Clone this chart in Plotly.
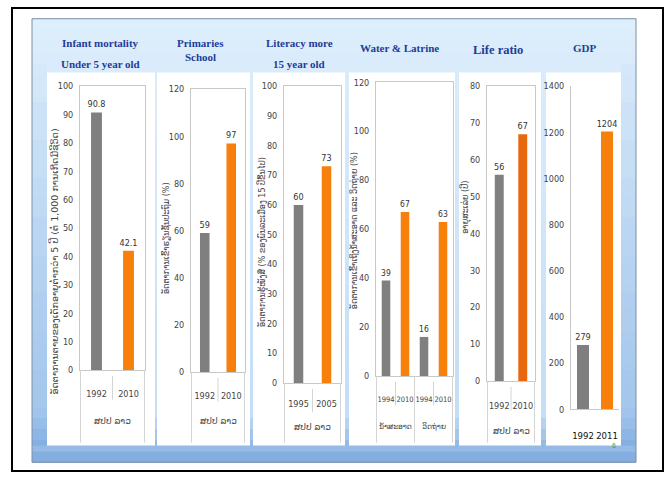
import plotly.graph_objects as go

# ---- data ----
lao_pdr = "ສປປ ລາວ"

infant_years = ["1992", "2010"]
infant_vals = [90.8, 42.1]

school_years = ["1992", "2010"]
school_vals = [59, 97]

literacy_years = ["1995", "2005"]
literacy_vals = [60, 73]

water_groups = ["ນ້ຳສະອາດ", "ນ້ຳສະອາດ", "ວິດຖ່າຍ", "ວິດຖ່າຍ"]
water_years = ["1994", "2010", "1994", "2010"]
water_vals = [39, 67, 16, 63]

life_years = ["1992", "2010"]
life_vals = [56, 67]

gdp_years = ["1992", "2011"]
gdp_vals = [279, 1204]

titles = [["Infant mortality", "Under 5 year old"], ["Primaries", "School"],
          ["Literacy more", "15 year old"], ["Water & Latrine"], ["Life ratio"], ["GDP"]]
y_titles = [
    "ອັດຕາການຕາຍຂອງເດັກອາຍຸຕ່ຳກວ່າ 5 ປີ (ຕໍ່ 1,000 ການເກີດມີຊີວິດ)",
    "ອັດຕາການເຂົ້າຮຽນຊັ້ນປະຖົມ (%)",
    "ອັດຕາການຮູ້ໜັງສື (% ຂອງພົນລະເມືອງ 15 ປີຂຶ້ນໄປ)",
    "ອັດຕາການເຂົ້າເຖິງນ້ຳສະອາດ ແລະ ວິດຖ່າຍ (%)",
    "ອາຍຸສະເລ່ຍ (ປີ)",
    None,
]

# ---- styling ----
W, H = 667, 479
GRAY = "#7f7f7f"
ORANGE = "#f7800c"
ORANGE_DARK = "#e8680e"
TITLE_BLUE = "#1f3c99"
DIV = "#d4d4d4"
NARROW = "Liberation Sans Narrow, Arial Narrow, DejaVu Sans Condensed, sans-serif"
LAO = "DejaVu Sans, Noto Sans, sans-serif"


def px(x):
    return x / W


def py(y):
    return 1 - y / H


# plot areas in pixels: (left, right, top, bottom)
boxes = [
    (80, 145, 83, 373),
    (191, 245, 86, 375),
    (284, 341, 83, 386),
    (376, 453, 79, 379),
    (487, 535, 83, 384),
    (571, 619, 83, 413),
]
y_ranges = [100, 120, 100, 120, 80, 1400]
y_dticks = [10, 20, 10, 20, 10, 200]
gaps = [0.66, 0.64, 0.66, 0.55, 0.62, 0.5]
x_standoff = [15, 15, 12, 16, 16, 17]
x_font = [9, 9, 9, 7.5, 9, 9.5]
group_font = [9, 9, 9, 7.5, 9, None]
group_label_y = [425, 425, 431, 430, 435, None]

water_keys = [g + " " + y for g, y in zip(water_groups, water_years)]

# (category keys, tick texts, values, colours, group spans)
series = [
    (infant_years, infant_years, infant_vals, [GRAY, ORANGE], [(lao_pdr, 0, 1)]),
    (school_years, school_years, school_vals, [GRAY, ORANGE], [(lao_pdr, 0, 1)]),
    (literacy_years, literacy_years, literacy_vals, [GRAY, ORANGE], [(lao_pdr, 0, 1)]),
    (water_keys, water_years, water_vals, [GRAY, ORANGE, GRAY, ORANGE],
     [(water_groups[0], 0, 1), (water_groups[2], 2, 3)]),
    (life_years, life_years, life_vals, [GRAY, ORANGE_DARK], [(lao_pdr, 0, 1)]),
    (gdp_years, gdp_years, gdp_vals, [GRAY, ORANGE], []),
]

fig = go.Figure()
layout = {}
shapes_top = []
annotations = []
for i, ((keys, ticktext, vals, cols, groups), box, yr, dt, gap, so, xf, gf, gy) in enumerate(
        zip(series, boxes, y_ranges, y_dticks, gaps, x_standoff, x_font, group_font,
            group_label_y)):
    n = "" if i == 0 else str(i + 1)
    fig.add_trace(go.Bar(
        x=keys, y=vals, width=1 - gap,
        marker=dict(color=cols, line=dict(width=0)),
        text=[f"{v:g}" for v in vals], textposition="outside",
        constraintext="none",
        textfont=dict(family=NARROW, size=8.5 if i == 3 else 9, color="#333333"),
        cliponaxis=False, xaxis="x" + n, yaxis="y" + n, showlegend=False,
    ))
    l, r, t, b = box
    is_gdp = i == 5
    layout["xaxis" + n] = dict(
        domain=[px(l), px(r)], anchor="y" + n, showgrid=False, type="category",
        tickmode="array", tickvals=keys, ticktext=ticktext,
        showline=True, linecolor="#c8c8c8", linewidth=1,
        mirror=False if is_gdp else True, tickangle=0,
        tickfont=dict(family=NARROW, size=xf,
                      color="#111111" if is_gdp else "#444444"),
        ticks="", ticklabelstandoff=so, fixedrange=True,
    )
    layout["yaxis" + n] = dict(
        domain=[py(b), py(t)], anchor="x" + n, range=[0, yr], dtick=dt,
        showgrid=False, zeroline=False, showline=True, linecolor="#c8c8c8",
        mirror=False if is_gdp else True,
        tickfont=dict(family=NARROW, size=9, color="#444444"),
        ticks="", ticklabelstandoff=4, fixedrange=True,
    )

    # two-level category labels: group names under the years, with dividers
    if groups:
        xr = "x" + n
        # short dividers between years inside a group
        for g_name, a, z in groups:
            for k in range(a, z):
                shapes_top.append(dict(type="line", xref=xr, yref="paper",
                                       x0=k + 0.5, x1=k + 0.5, y0=py(b + 30), y1=py(b + 6),
                                       line=dict(color=DIV, width=1)))
            annotations.append(dict(text=g_name, x=(a + z) / 2, y=py(gy), xref=xr,
                                    yref="paper", showarrow=False,
                                    font=dict(family=LAO, size=gf, color="#444444"),
                                    xanchor="center", yanchor="middle"))
        # long dividers at group boundaries
        edges = sorted({a - 0.5 for _, a, _ in groups} | {z + 0.5 for _, _, z in groups})
        for e in edges:
            shapes_top.append(dict(type="line", xref=xr, yref="paper",
                                   x0=e, x1=e, y0=py(447), y1=py(b),
                                   line=dict(color=DIV, width=1)))

# ---- slide background ----
shapes = []
shapes.append(dict(type="rect", xref="paper", yref="paper", x0=px(12), x1=px(663),
                   y0=py(476), y1=py(3), line=dict(color="black", width=2),
                   fillcolor="white", layer="below"))

slide_l, slide_r, slide_t, slide_b = 32, 636, 14, 467
steps = 40
top_rgb = (221, 238, 252)
mid_rgb = (196, 222, 246)
bot_rgb = (132, 174, 224)
for k in range(steps):
    y0 = slide_t + (slide_b - slide_t) * k / steps
    y1 = slide_t + (slide_b - slide_t) * (k + 1) / steps
    f = k / (steps - 1)
    if f < 0.9:
        g = f / 0.9
        c = tuple(int(top_rgb[j] + (mid_rgb[j] - top_rgb[j]) * g) for j in range(3))
    else:
        g = (f - 0.9) / 0.1
        c = tuple(int(mid_rgb[j] + (bot_rgb[j] - mid_rgb[j]) * g) for j in range(3))
    shapes.append(dict(type="rect", xref="paper", yref="paper",
                       x0=px(slide_l), x1=px(slide_r), y0=py(y1 + 0.5), y1=py(y0),
                       line=dict(width=0), fillcolor="rgb(%d,%d,%d)" % c, layer="below"))
# side strips, slightly bluer towards the bottom
for k in range(10):
    y0 = 60 + 39 * k
    y1 = y0 + 39
    a = 0.05 + 0.04 * k
    for xa, xb in ((32, 47), (621, 636)):
        shapes.append(dict(type="rect", xref="paper", yref="paper", x0=px(xa), x1=px(xb),
                           y0=py(y1), y1=py(y0), line=dict(width=0),
                           fillcolor="rgba(110,160,220,%.2f)" % a, layer="below"))
shapes.append(dict(type="rect", xref="paper", yref="paper",
                   x0=px(slide_l), x1=px(slide_r), y0=py(slide_b), y1=py(slide_t),
                   line=dict(color="#7d8fa6", width=1), fillcolor="rgba(0,0,0,0)",
                   layer="below"))

# white chart panels
panels = [(47, 155), (157, 250), (253, 345), (349, 455), (459, 541), (546, 621)]
for x0, x1 in panels:
    shapes.append(dict(type="rect", xref="paper", yref="paper", x0=px(x0), x1=px(x1),
                       y0=py(450), y1=py(69), line=dict(width=0), fillcolor="white",
                       layer="below"))

shapes.extend(shapes_top)

# ---- text ----
# (centre x, y of each line, font size)
title_pos = [(100, [39, 60], 11), (200, [39, 53], 11), (299, [39, 60], 11),
             (399, [44], 11), (498, [46], 12.5), (585, [44], 11)]
for lines, (cx, ys, fs) in zip(titles, title_pos):
    for line, ly in zip(lines, ys):
        annotations.append(dict(text="<b>" + line + "</b>", x=px(cx), y=py(ly),
                                xref="paper", yref="paper", showarrow=False,
                                font=dict(family="Liberation Serif, Times New Roman, serif",
                                          size=fs, color=TITLE_BLUE),
                                xanchor="center", yanchor="middle"))

ytitle_pos = [(55, 262, 9.5), (166, 238, 8), (262, 242, 8), (354, 231, 8), (466, 206, 8)]
for txt, (cx, cy, fs) in zip(y_titles, ytitle_pos):
    annotations.append(dict(text=txt, x=px(cx), y=py(cy), xref="paper", yref="paper",
                            showarrow=False, textangle=-90,
                            font=dict(family=LAO, size=fs, color="#444444"),
                            xanchor="center", yanchor="middle"))

annotations.append(dict(text="6", x=px(618), y=py(455), xref="paper", yref="paper",
                        showarrow=False, font=dict(family="Liberation Sans", size=7,
                                                   color="#3aa04a")))

layout.update(dict(
    width=W, height=H, margin=dict(l=0, r=0, t=0, b=0),
    paper_bgcolor="white", plot_bgcolor="rgba(0,0,0,0)",
    shapes=shapes, annotations=annotations, showlegend=False,
))
fig.update_layout(**layout)

fig.write_html("out.html", config={"displayModeBar": False})
